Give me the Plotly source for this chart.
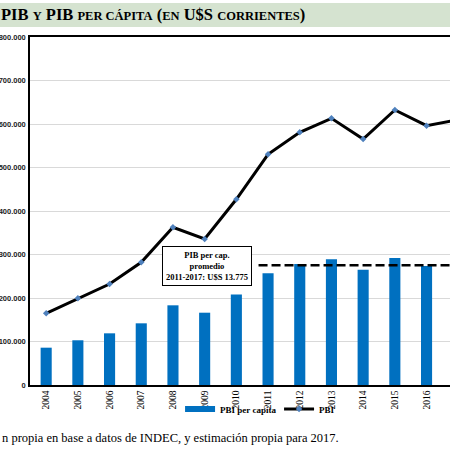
import plotly.graph_objects as go

years = ["2004", "2005", "2006", "2007", "2008", "2009", "2010",
         "2011", "2012", "2013", "2014", "2015", "2016", "2017"]
pbi = [164800, 199300, 232200, 282000, 362500, 335600, 426900,
       530300, 580800, 613000, 565500, 632200, 596100, 610000]
pbi_per_capita = [4290, 5140, 5940, 7090, 9160, 8310, 10400,
                  12840, 13910, 14450, 13250, 14600, 13680, 13700]
avg_label_years = ["2011", "2017"]
avg_per_capita = 13775
left_ticks = [0, 100000, 200000, 300000, 400000, 500000, 600000, 700000, 800000]

idx = list(range(len(years)))
i0 = years.index(avg_label_years[0])
i1 = years.index(avg_label_years[1])

SERIF = "Liberation Serif"
BLUE = "#0070c0"

fig = go.Figure()
fig.add_trace(go.Bar(
    x=idx, y=pbi_per_capita, name="PBI per capita", yaxis="y2",
    marker=dict(color=BLUE, line=dict(width=0)), width=0.35,
    legendgroup="pc", showlegend=False,
))
# legend entry for the bars drawn as a flat wide swatch, as in the original
fig.add_trace(go.Scatter(
    x=[None], y=[None], name="<b>PBI per capita</b>", mode="lines",
    line=dict(color=BLUE, width=6), legendgroup="pc", yaxis="y2",
))
fig.add_trace(go.Scatter(
    x=idx, y=pbi, name="<b>PBI</b>", mode="lines+markers",
    line=dict(color="black", width=3),
    marker=dict(color="#4f81bd", size=5, symbol="diamond"),
))
fig.add_trace(go.Scatter(
    x=[i0 - 0.3, i1 + 0.3], y=[avg_per_capita, avg_per_capita], yaxis="y2",
    mode="lines", line=dict(color="black", width=2.5, dash="9px,4px"),
    showlegend=False, hoverinfo="skip",
))

fig.update_layout(
    width=450, height=450,
    margin=dict(l=30, r=0, t=37, b=65, autoexpand=False),
    paper_bgcolor="white", plot_bgcolor="white",
    separators=",.",
    barmode="overlay",
    showlegend=True,
    legend=dict(orientation="h", x=0.593, xanchor="center", y=-0.069, yanchor="middle",
                font=dict(family=SERIF, size=9, color="black"),
                tracegroupgap=0, bgcolor="rgba(0,0,0,0)",
                entrywidth=54, entrywidthmode="pixels", itemwidth=30),
    xaxis=dict(
        range=[-0.51, 12.74], tickmode="array", tickvals=idx, ticktext=years,
        tickangle=-90, tickfont=dict(family=SERIF, size=9.5, color="black"),
        showgrid=False, showline=True, linecolor="black", linewidth=1.5,
        mirror=True, zeroline=False, ticks="", automargin=False,
    ),
    yaxis=dict(
        range=[0, 800000], tickmode="array", tickvals=left_ticks, tickformat=",",
        tickfont=dict(family="Liberation Sans", size=7.5, color="#222", weight="bold"),
        ticklabelstandoff=1,
        showgrid=True, gridcolor="#d9d9d9", gridwidth=1,
        showline=True, linecolor="black", linewidth=1.5, zeroline=False, ticks="",
        automargin=False,
    ),
    yaxis2=dict(
        range=[0, 40000], overlaying="y", side="right", showticklabels=False,
        showgrid=False, zeroline=False, showline=False, automargin=False,
    ),
    shapes=[dict(type="rect", xref="paper", yref="paper",
                 x0=-0.2, x1=1.2, y0=1 + (37 - 27) / 348, y1=1 + (37 - 3) / 348,
                 fillcolor="#d5e3d0", line=dict(width=0), layer="below")],
    annotations=[
        dict(xref="paper", yref="paper", x=-0.074, y=1 + (37 - 15) / 348,
             xanchor="left", yanchor="middle", showarrow=False,
             text=("PIB <span style='font-size:12.5px'>Y</span> PIB "
                   "<span style='font-size:12.5px'>PER CÁPITA</span> "
                   "(<span style='font-size:12.5px'>EN</span> U$S "
                   "<span style='font-size:12.5px'>CORRIENTES</span>)"),
             font=dict(family=SERIF, size=16.5, color="black", weight="bold")),
        dict(xref="paper", yref="paper", x=(207 - 30) / 420, y=(385 - 266) / 348,
             xanchor="center", yanchor="middle", showarrow=False,
             text="PIB per cap.<br>promedio<br>2011-2017: U$S 13.775",
             font=dict(family=SERIF, size=8.5, color="black", weight="bold"),
             bgcolor="white", bordercolor="black", borderwidth=1, borderpad=3),
        dict(xref="paper", yref="paper", x=-0.071, y=-(438 - 385) / 348,
             xanchor="left", yanchor="middle", showarrow=False,
             text="n propia en base a datos de INDEC, y estimación propia para 2017.",
             font=dict(family=SERIF, size=12.5, color="black")),
    ],
)

fig.write_html("out.html", config={"displayModeBar": False},
               post_script="document.body.style.margin='0';document.body.style.padding='0';")
